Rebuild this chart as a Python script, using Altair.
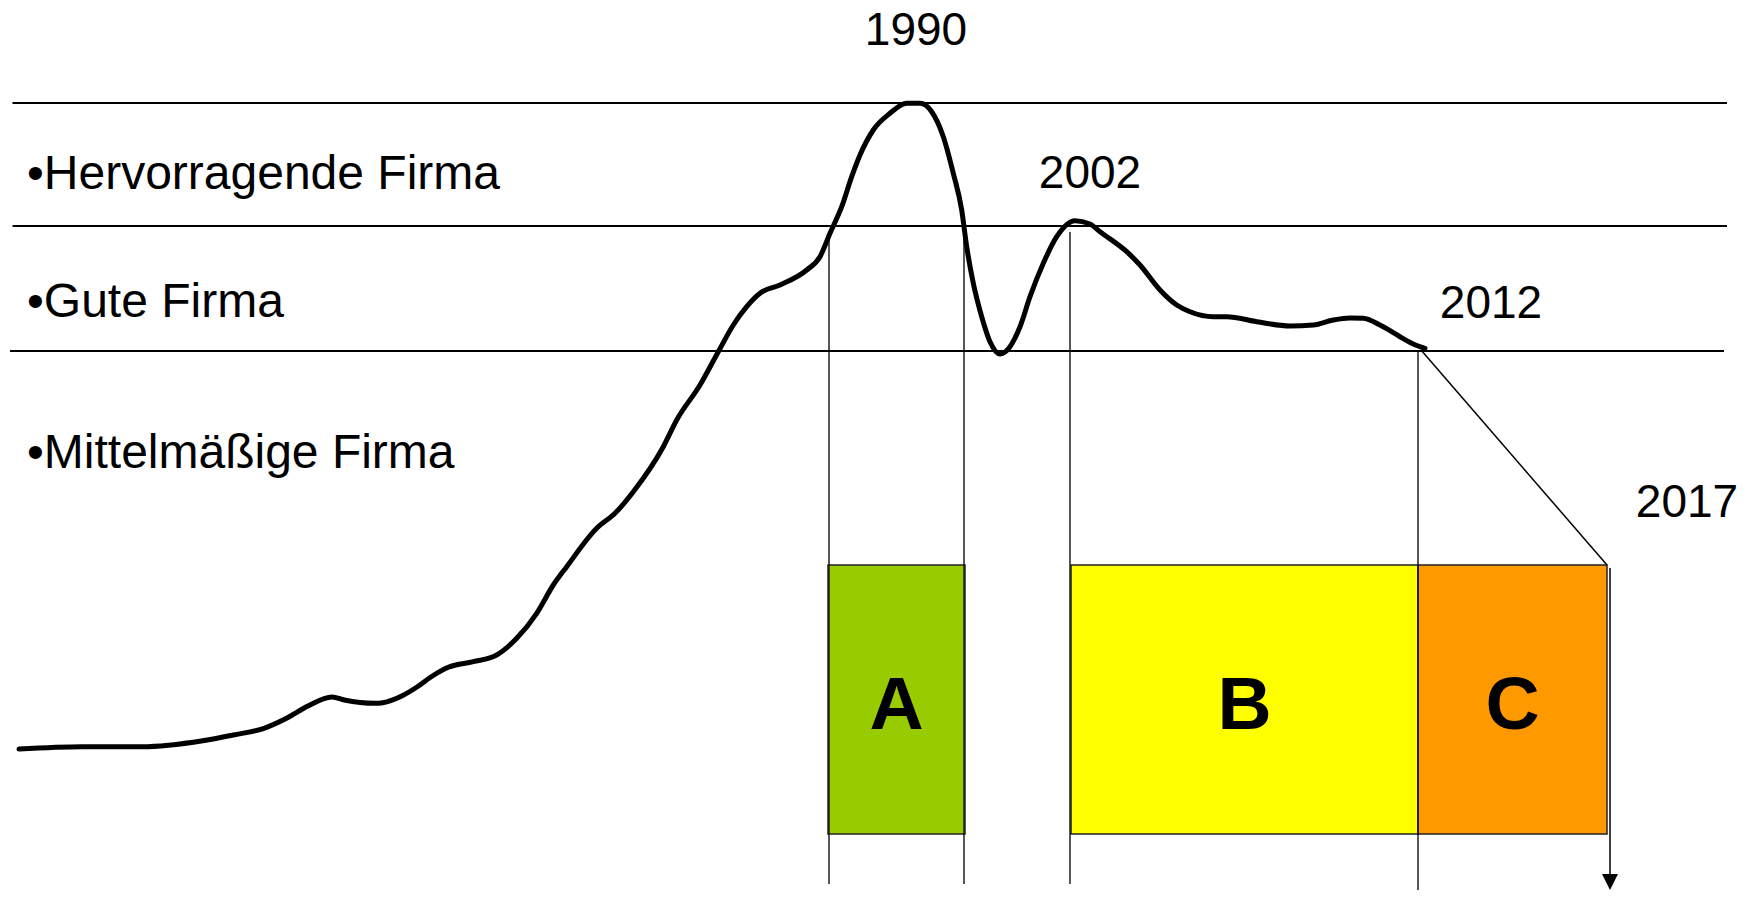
import altair as alt
import pandas as pd

# canvas (plot area) size; page adds 8px margin
W, H = 1739, 882
X0, Y0 = 8, 8

# ---- data (picture units) ----
curve_x = [19, 82, 141.6, 202.8, 233.4, 264, 287, 308, 332, 344.4, 375, 382.7, 401.8, 417,
           432.4, 448.3, 473.3, 496.7, 516.7, 536.7, 553.3, 566.7, 596.7, 615, 633.3, 663.3,
           676.7, 700, 718.3, 733.3, 746.7, 760, 780, 806.7, 820, 830, 841.7, 851.7, 860,
           873.3, 890, 906.7, 920, 931.7, 943.3, 953.3, 961.7, 966.7, 973.3, 981.7, 990,
           1000, 1010, 1020, 1030, 1043.3, 1056.7, 1075, 1090, 1100, 1126.7, 1140, 1160,
           1176.7, 1190, 1213.3, 1226.7, 1256.7, 1290, 1313.3, 1333.3, 1350, 1363.3, 1380,
           1400, 1413.3, 1425]
curve_y = [749, 746.7, 746.7, 740.7, 735, 728.3, 718, 706, 697, 700, 703.3, 702.7, 696, 687,
           676, 667.3, 661.7, 655, 638.3, 613.3, 585, 566.7, 528.3, 513.3, 491.7, 446.7,
           420, 385, 351.7, 325, 306.7, 293.3, 285, 270, 256.7, 233.3, 206.7, 176.7, 155,
           130, 113.3, 103.3, 103.3, 111.7, 136.7, 173.3, 210, 246.7, 283.3, 316.7, 341.7,
           354, 346.7, 326.7, 296.7, 263.3, 236.7, 220.7, 224, 231.7, 251.7, 265, 290,
           305, 311.7, 316.7, 316.7, 321.7, 326, 325, 320, 318, 318.3, 325,
           336.7, 344, 348.3]

band_y = [103, 226, 351]
band_x_start = [12.5, 12.5, 10]
band_x_end = [1727, 1727, 1724]

labels = ["•Hervorragende Firma", "•Gute Firma", "•Mittelmäßige Firma"]
label_x = [27, 27, 27]
label_y = [189, 317, 468]

years = ["1990", "2002", "2012", "2017"]
year_x = [916, 1090, 1491, 1687]
year_y = [45, 188, 318, 517]

phases = ["A", "B", "C"]
phase_x0 = [828, 1071, 1418]
phase_x1 = [965, 1418, 1607]
phase_top = [565, 565, 565]
phase_bottom = [834, 834, 834]
phase_label_y = [729, 729, 729]
phase_colors = ["#99CC00", "#FFFF00", "#FF9900"]

guide_x = [829, 964, 1070, 1418]
guide_y0 = [237, 238, 232, 350]
guide_y1 = [884, 884, 884, 897]

decline_x = [1421]
decline_x2 = [1607]
decline_y = [350]
decline_y2 = [565]

arrow_x = [1610]
arrow_y = [568]
arrow_y2 = [878]
arrow_head_y = [882]

# ---- scales ----
xs = alt.Scale(domain=[X0, X0 + W], nice=False, zero=False)
ys = alt.Scale(domain=[Y0, Y0 + H], nice=False, zero=False, reverse=True)


def X(f):
    return alt.X(f + ":Q", scale=xs, axis=None)


def Y(f):
    return alt.Y(f + ":Q", scale=ys, axis=None)


FONT = "Liberation Sans"

bands = alt.Chart(pd.DataFrame({"x": band_x_start, "x2": band_x_end, "y": band_y})).mark_rule(
    color="black", strokeWidth=2
).encode(x=X("x"), x2="x2:Q", y=Y("y"))

guides = alt.Chart(pd.DataFrame({"x": guide_x, "y": guide_y0, "y2": guide_y1})).mark_rule(
    color="#111", strokeWidth=1.4
).encode(x=X("x"), y=Y("y"), y2="y2:Q")

rects = alt.Chart(pd.DataFrame({"phase": phases, "x": phase_x0, "x2": phase_x1,
                                "y": phase_top, "y2": phase_bottom})).mark_rect(
    stroke="#222", strokeWidth=1.5, opacity=1
).encode(
    x=X("x"), x2="x2:Q", y=Y("y"), y2="y2:Q",
    color=alt.Color("phase:N", scale=alt.Scale(domain=phases, range=phase_colors), legend=None),
)

phase_text = alt.Chart(pd.DataFrame({
    "phase": phases,
    "xc": [(a + b) / 2 for a, b in zip(phase_x0, phase_x1)],
    "y": phase_label_y})).mark_text(
    font=FONT, fontSize=75, fontWeight="bold", align="center", baseline="alphabetic", color="black"
).encode(x=X("xc"), y=Y("y"), text="phase:N")

decline = alt.Chart(pd.DataFrame({"x": decline_x, "x2": decline_x2, "y": decline_y,
                                  "y2": decline_y2})).mark_rule(
    color="black", strokeWidth=1.5
).encode(x=X("x"), x2="x2:Q", y=Y("y"), y2="y2:Q")

arrow = alt.Chart(pd.DataFrame({"x": arrow_x, "y": arrow_y, "y2": arrow_y2})).mark_rule(
    color="black", strokeWidth=1.5
).encode(x=X("x"), y=Y("y"), y2="y2:Q")

arrow_head = alt.Chart(pd.DataFrame({"x": arrow_x, "y": arrow_head_y})).mark_point(
    shape="M-1,-1L1,-1L0,1Z", size=256, filled=True, color="black", opacity=1, strokeWidth=0
).encode(x=X("x"), y=Y("y"))

curve = alt.Chart(pd.DataFrame({"x": curve_x, "y": curve_y, "i": list(range(len(curve_x)))})).mark_line(
    color="black", strokeWidth=5, interpolate="monotone", strokeCap="round", strokeJoin="round"
).encode(x=X("x"), y=Y("y"), order="i:Q")

label_text = alt.Chart(pd.DataFrame({"t": labels, "x": label_x, "y": label_y})).mark_text(
    font=FONT, fontSize=48, align="left", baseline="alphabetic", color="black"
).encode(x=X("x"), y=Y("y"), text="t:N")

year_text = alt.Chart(pd.DataFrame({"t": years, "x": year_x, "y": year_y})).mark_text(
    font=FONT, fontSize=46, align="center", baseline="alphabetic", color="black"
).encode(x=X("x"), y=Y("y"), text="t:N")

chart = alt.layer(
    rects, guides, bands, decline, arrow, arrow_head, curve, phase_text, label_text, year_text
).properties(
    width=W, height=H, padding=0, autosize=alt.AutoSizeParams(type="none")
).configure_view(stroke=None)

chart.save("out.html", embed_options={"renderer": "svg", "actions": False})
